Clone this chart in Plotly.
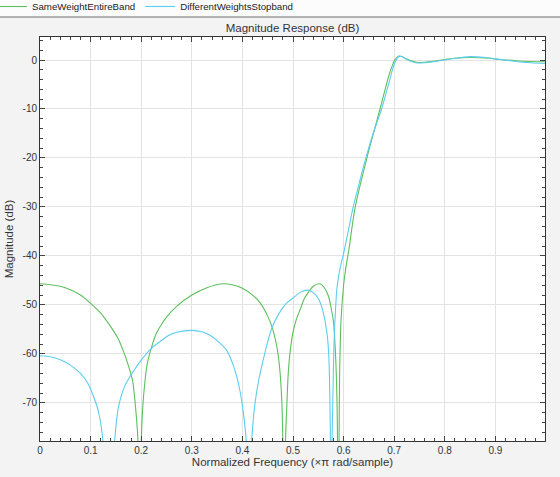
import plotly.graph_objects as go

# Normalized frequency (x pi rad/sample) and magnitude (dB)
freq_same = [0.000, 0.020, 0.040, 0.060, 0.080, 0.100, 0.120, 0.140, 0.155, 0.165,
             0.175, 0.183, 0.188, 0.192, 0.194, 0.197, 0.200, 0.203, 0.207, 0.212,
             0.220, 0.230, 0.240, 0.250, 0.270, 0.300, 0.330, 0.360, 0.380, 0.400,
             0.420, 0.435, 0.450, 0.460, 0.468, 0.474, 0.478, 0.480, 0.482, 0.485,
             0.488, 0.491, 0.495, 0.500, 0.507, 0.514, 0.522, 0.530, 0.540, 0.553,
             0.562, 0.570, 0.576, 0.580, 0.584, 0.587, 0.588, 0.589, 0.591, 0.592,
             0.595, 0.600, 0.605, 0.610, 0.623, 0.646, 0.672, 0.690, 0.695, 0.700,
             0.705, 0.710, 0.715, 0.725, 0.735, 0.748, 0.760, 0.780, 0.800, 0.820,
             0.850, 0.880, 0.910, 0.940, 0.970, 0.998]
mag_same = [-45.7, -45.9, -46.2, -46.9, -48.0, -49.7, -51.7, -54.5, -57.0, -59.5,
            -62.5, -65.5, -70.0, -75.0, -78.5, -100.0, -78.5, -71.0, -66.0, -62.0,
            -58.8, -55.8, -54.0, -52.5, -50.3, -48.0, -46.5, -45.7, -45.9, -46.6,
            -48.0, -49.6, -52.3, -55.0, -58.5, -63.3, -70.0, -78.5, -100.0, -78.5,
            -70.0, -63.3, -59.0, -55.6, -52.8, -51.0, -48.8, -47.5, -46.2, -45.7,
            -46.5, -48.2, -51.0, -53.5, -60.0, -70.0, -78.5, -100.0, -78.5, -65.0,
            -53.0, -46.0, -42.0, -39.0, -30.0, -20.0, -10.0, -3.0, -1.5, -0.2,
            0.5, 0.8, 0.7, 0.2, -0.2, -0.5, -0.45, -0.2, 0.1, 0.35,
            0.5, 0.4, 0.1, -0.15, -0.3, -0.35]

freq_diff = [0.000, 0.020, 0.040, 0.060, 0.080, 0.095, 0.105, 0.112, 0.118, 0.125,
             0.136, 0.147, 0.154, 0.160, 0.167, 0.177, 0.187, 0.200, 0.220, 0.237,
             0.253, 0.270, 0.300, 0.320, 0.336, 0.350, 0.369, 0.380, 0.389, 0.396,
             0.402, 0.408, 0.413, 0.418, 0.425, 0.432, 0.441, 0.450, 0.461, 0.470,
             0.481, 0.490, 0.500, 0.515, 0.530, 0.540, 0.550, 0.557, 0.563, 0.568,
             0.571, 0.573, 0.574, 0.575, 0.577, 0.579, 0.581, 0.584, 0.587, 0.593,
             0.600, 0.610, 0.619, 0.630, 0.644, 0.660, 0.675, 0.690, 0.698, 0.704,
             0.710, 0.715, 0.725, 0.735, 0.745, 0.760, 0.780, 0.800, 0.820, 0.850,
             0.880, 0.910, 0.940, 0.970, 0.998]
mag_diff = [-60.4, -60.6, -61.2, -62.3, -64.0, -66.1, -68.5, -70.5, -73.0, -78.5,
            -100.0, -78.5, -71.5, -68.8, -66.7, -64.8, -63.2, -61.3, -58.9, -57.5,
            -56.3, -55.6, -55.2, -55.5, -56.2, -57.3, -59.3, -61.8, -64.7, -68.0,
            -72.1, -78.5, -100.0, -78.5, -70.0, -65.5, -61.3, -57.5, -54.0, -52.2,
            -50.4, -49.4, -48.6, -47.4, -47.0, -47.5, -48.7, -50.5, -53.1, -56.5,
            -61.0, -70.0, -78.5, -100.0, -78.5, -68.0, -58.0, -51.0, -46.4, -42.5,
            -39.5, -34.5, -30.0, -25.5, -20.0, -14.5, -10.0, -4.5, -1.5, 0.0,
            0.8, 0.7, 0.1, -0.35, -0.6, -0.55, -0.3, 0.0, 0.35, 0.7,
            0.5, 0.1, -0.3, -0.55, -0.7]

x_tickvals = [0, 0.1, 0.2, 0.3, 0.4, 0.5, 0.6, 0.7, 0.8, 0.9]
x_ticktext = ["0", "0.1", "0.2", "0.3", "0.4", "0.5", "0.6", "0.7", "0.8", "0.9"]
y_tickvals = [0, -10, -20, -30, -40, -50, -60, -70]
y_ticktext = ["0", "-10", "-20", "-30", "-40", "-50", "-60", "-70"]

GREEN = "#5cbf5c"
BLUE = "#5bcdf0"
FONT = "Liberation Sans, Arial, sans-serif"

fig = go.Figure()
fig.add_trace(go.Scatter(x=freq_same, y=mag_same, mode="lines", name="SameWeightEntireBand",
                         line=dict(color=GREEN, width=1.1, shape="spline", smoothing=0.8)))
fig.add_trace(go.Scatter(x=freq_diff, y=mag_diff, mode="lines", name="DifferentWeightsStopband",
                         line=dict(color=BLUE, width=1.1, shape="spline", smoothing=0.8)))

axis_common = dict(
    showline=True, linecolor="#333333", linewidth=1, mirror="ticks",
    ticks="inside", ticklen=5, tickcolor="#444444",
    showgrid=True, gridcolor="#e3e3e3", gridwidth=1, zeroline=False,
    tickfont=dict(family=FONT, size=10, color="#333333"),
    automargin=False,
)

fig.update_xaxes(
    range=[0, 0.998], tickvals=x_tickvals, ticktext=x_ticktext,
    minor=dict(dtick=0.02, tick0=0, ticks="inside", ticklen=3, tickcolor="#444444", showgrid=False),
    title=dict(text="Normalized Frequency (×π rad/sample)", standoff=2,
               font=dict(family=FONT, size=11.5, color="#333333")),
    **axis_common,
)
fig.update_yaxes(
    range=[-77.8, 4.7], tickvals=y_tickvals, ticktext=y_ticktext,
    minor=dict(dtick=2, tick0=0, ticks="inside", ticklen=3, tickcolor="#444444", showgrid=False),
    title=dict(text="Magnitude (dB)", standoff=6,
               font=dict(family=FONT, size=11.5, color="#333333")),
    **axis_common,
)

PLOT_H = 477 - 37 - 36
PLOT_W = 560 - 40 - 15
SEP = 1.0 + 20 / PLOT_H
fig.update_layout(
    width=560, height=477,
    autosize=False,
    margin=dict(l=40, r=15, t=37, b=36, autoexpand=False),
    paper_bgcolor="#f3f3f3",
    plot_bgcolor="#ffffff",
    title=dict(text="Magnitude Response (dB)", x=0.5, xref="paper", xanchor="center",
               y=1, yref="paper", yanchor="bottom", pad=dict(b=5), automargin=False,
               font=dict(family=FONT, size=11.5, color="#333333")),
    showlegend=True,
    legend=dict(orientation="h", x=-48 / PLOT_W, y=1.0 + 45 / PLOT_H, xref="paper", yref="paper",
                xanchor="left", yanchor="top", bgcolor="rgba(0,0,0,0)",
                font=dict(family=FONT, size=9.7, color="#222222"),
                itemwidth=30, tracegroupgap=0),
    shapes=[
        dict(type="rect", xref="paper", yref="paper", x0=-0.1, x1=1.05,
             y0=SEP, y1=1.12, fillcolor="#fcfcfc", line=dict(width=0), layer="below"),
        dict(type="line", xref="paper", yref="paper", x0=-0.1, x1=1.05,
             y0=SEP, y1=SEP, line=dict(color="#6e6e6e", width=1.2), layer="above"),
    ],
)

fig.write_html("out.html", config={"displayModeBar": False},
               post_script="document.body.style.margin='0';")
